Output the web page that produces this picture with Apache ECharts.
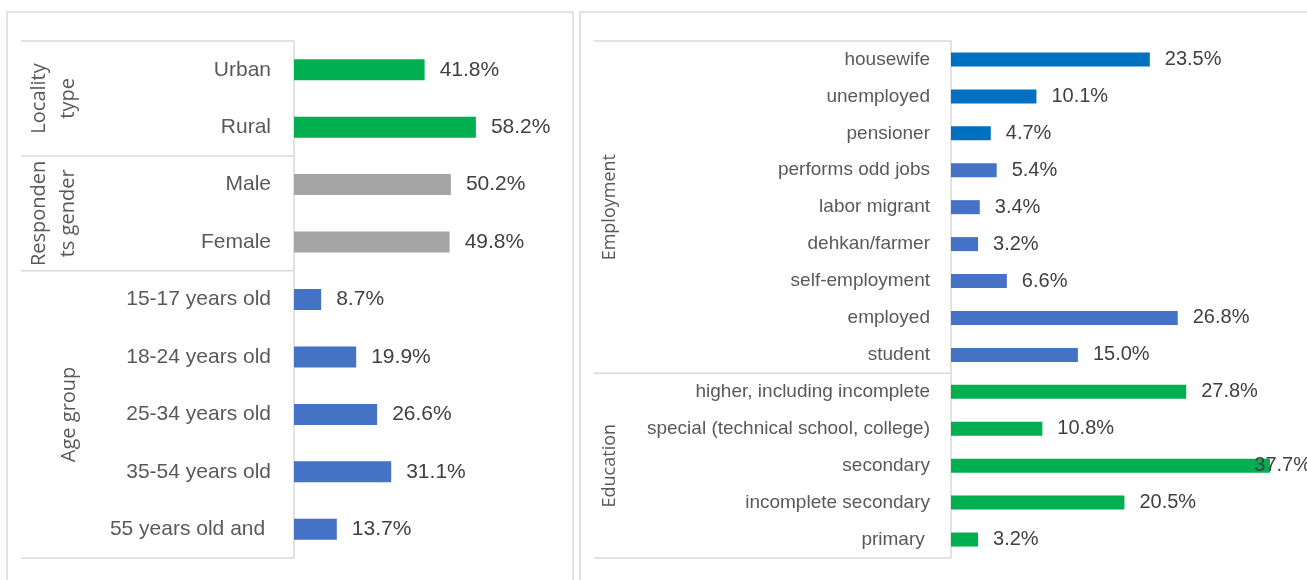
<!DOCTYPE html>
<html>
<head>
<meta charset="utf-8">
<script src="https://cdn.jsdelivr.net/npm/echarts@6/dist/echarts.min.js"></script>
<style>
  html, body { margin: 0; padding: 0; background: #ffffff; }
  #chart { width: 1307px; height: 580px; }
</style>
</head>
<body>
<div id="chart"></div>
<script>
// ---- data: respondent profile (left) ----
const leftCategories = ['Urban', 'Rural', 'Male', 'Female',
  '15-17 years old', '18-24 years old', '25-34 years old', '35-54 years old', '55 years old and '];
const leftValues = [41.8, 58.2, 50.2, 49.8, 8.7, 19.9, 26.6, 31.1, 13.7];
const leftGroupNames = ['Locality\ntype', 'Responden\nts gender', 'Age group'];
const leftGroupSizes = [2, 2, 5];

// ---- data: employment and education (right) ----
const rightCategories = ['housewife', 'unemployed', 'pensioner', 'performs odd jobs', 'labor migrant',
  'dehkan/farmer', 'self-employment', 'employed', 'student',
  'higher, including incomplete', 'special (technical school, college)', 'secondary',
  'incomplete secondary', 'primary '];
const rightValues = [23.5, 10.1, 4.7, 5.4, 3.4, 3.2, 6.6, 26.8, 15.0, 27.8, 10.8, 37.7, 20.5, 3.2];
const rightGroupNames = ['Employment', 'Education'];
const rightGroupSizes = [9, 5];

// ---- styles ----
const GREEN = '#00B050', GREY = '#A5A5A5', BLUE = '#4472C4', DARKBLUE = '#0070C0';
const leftBarColors = [GREEN, GREEN, GREY, GREY, BLUE, BLUE, BLUE, BLUE, BLUE];
const rightBarColors = [DARKBLUE, DARKBLUE, DARKBLUE, BLUE, BLUE, BLUE, BLUE, BLUE, BLUE,
  GREEN, GREEN, GREEN, GREEN, GREEN];
const LINE = '#D9D9D9';
const TEXT = '#595959';
const VALUE_TEXT = '#404040';
const SANS = '"Liberation Sans", Arial, sans-serif';
const GROUP_FONT = '"Open Sans", "Noto Sans", sans-serif';

const chart = echarts.init(document.getElementById('chart'), null, { renderer: 'canvas' });

function barData(values, colors) {
  return values.map((v, i) => ({ value: v, itemStyle: { color: colors[i] } }));
}

function catAxis(gridIndex, cats, fontSize, margin) {
  return {
    type: 'category', gridIndex, data: cats, inverse: true,
    axisLine: { show: true, lineStyle: { color: LINE, width: 1.5 } },
    axisTick: { show: false },
    axisLabel: { color: TEXT, fontFamily: SANS, fontSize, margin }
  };
}

function valueLabel(fontSize) {
  return {
    show: true, position: 'right', distance: 15,
    color: VALUE_TEXT, fontFamily: SANS, fontSize,
    formatter: p => p.value.toFixed(1) + '%'
  };
}

chart.setOption({
  animation: false,
  backgroundColor: '#ffffff',
  grid: [
    { left: 294, top: 41, width: 250, height: 517 },
    { left: 951, top: 41, width: 338.4, height: 517 }
  ],
  xAxis: [
    { type: 'value', gridIndex: 0, min: 0, max: 80, show: false },
    { type: 'value', gridIndex: 1, min: 0, max: 40, show: false }
  ],
  yAxis: [
    catAxis(0, leftCategories, 21, 23),
    catAxis(1, rightCategories, 19, 21)
  ],
  series: [
    {
      type: 'bar', xAxisIndex: 0, yAxisIndex: 0, barWidth: 21,
      data: barData(leftValues, leftBarColors), label: valueLabel(21)
    },
    {
      type: 'bar', xAxisIndex: 1, yAxisIndex: 1, barWidth: 14,
      data: barData(rightValues, rightBarColors), label: valueLabel(20),
      // keep value labels inside the chart area, sliding them left over the bar if needed
      labelLayout: params => {
        const limit = 1311;
        const r = params.labelRect;
        if (r.x + r.width > limit) {
          return { x: limit - r.width, y: r.y + r.height / 2, align: 'left', verticalAlign: 'middle' };
        }
        return {};
      }
    }
  ]
});

// ---- group brackets: separator lines and rotated group titles ----
function groupGraphics(axisIndex, cats, names, sizes, lineX0, axisX, textX, fontSize) {
  const centers = cats.map(c => chart.convertToPixel({ yAxisIndex: axisIndex }, c));
  const step = centers[1] - centers[0];
  const elems = [];
  let start = 0;
  const edge = i => (i <= 0 ? centers[0] - step / 2 :
    i >= cats.length ? centers[cats.length - 1] + step / 2 :
    (centers[i - 1] + centers[i]) / 2);
  elems.push(hLine(lineX0, axisX, edge(0)));
  names.forEach((name, g) => {
    const end = start + sizes[g];
    const y0 = edge(start), y1 = edge(end);
    elems.push(hLine(lineX0, axisX, y1));
    elems.push({
      type: 'text', x: textX[g], y: (y0 + y1) / 2, rotation: Math.PI / 2,
      style: {
        text: name, fill: TEXT, font: fontSize + 'px ' + GROUP_FONT,
        align: 'center', verticalAlign: 'middle', lineHeight: Math.round(fontSize * 1.45)
      }
    });
    start = end;
  });
  return elems;
}

function hLine(x1, x2, y) {
  return { type: 'line', shape: { x1, y1: y, x2, y2: y }, style: { stroke: LINE, lineWidth: 1.5 } };
}

const leftAxisX = chart.convertToPixel({ xAxisIndex: 0 }, 0);
const rightAxisX = chart.convertToPixel({ xAxisIndex: 1 }, 0);

chart.setOption({
  graphic: [
    // panel frames
    { type: 'rect', shape: { x: 7, y: 12, width: 566, height: 620 },
      style: { fill: 'none', stroke: LINE, lineWidth: 1.5 }, z: -1 },
    { type: 'rect', shape: { x: 580, y: 12, width: 760, height: 620 },
      style: { fill: 'none', stroke: LINE, lineWidth: 1.5 }, z: -1 },
    ...groupGraphics(0, leftCategories, leftGroupNames, leftGroupSizes, 21, leftAxisX, [54, 54, 69], 20),
    ...groupGraphics(1, rightCategories, rightGroupNames, rightGroupSizes, 594, rightAxisX, [610, 610], 18)
  ]
});
</script>
</body>
</html>
